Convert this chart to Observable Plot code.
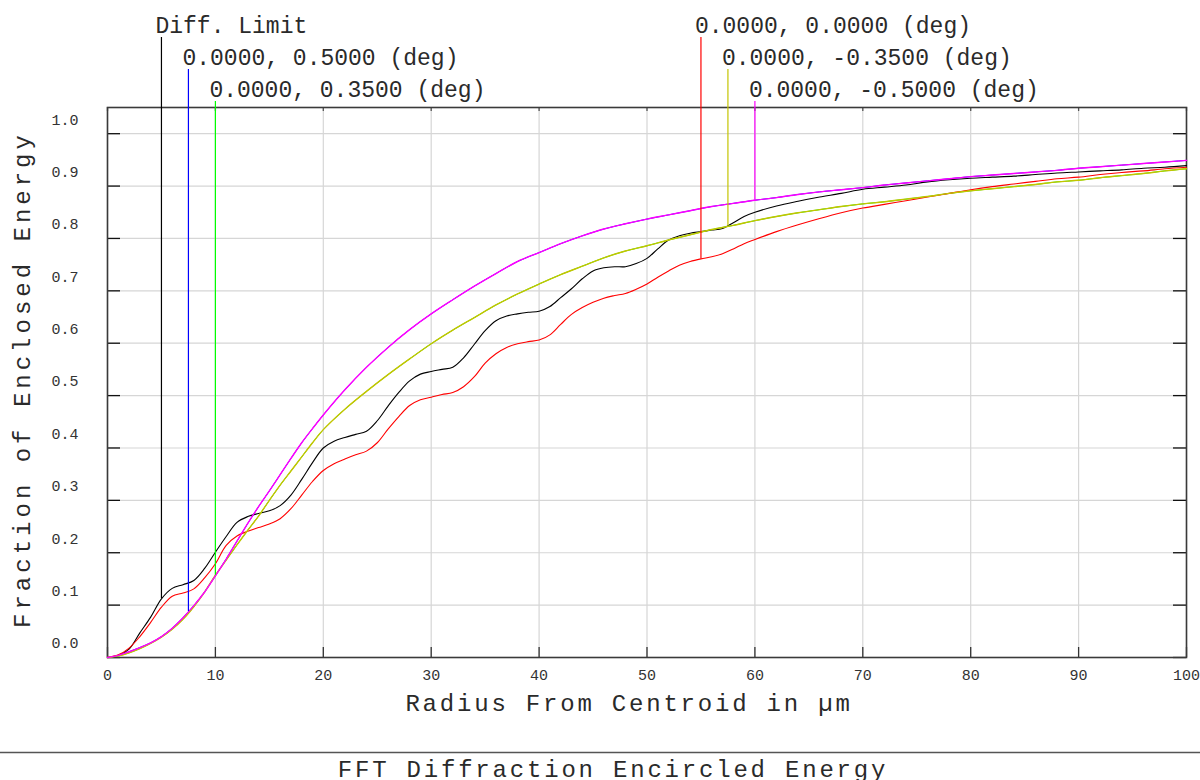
<!DOCTYPE html>
<html><head><meta charset="utf-8">
<script src="https://cdn.jsdelivr.net/npm/d3@7"></script>
<script src="https://cdn.jsdelivr.net/npm/@observablehq/plot@0.6"></script>
<style>
body{margin:0;background:#fff;}
#wrap{position:relative;width:1200px;height:780px;overflow:hidden;font-family:"Liberation Mono",monospace;background:#fff;}
#footer{position:absolute;left:0;top:730px;}
</style></head><body><div id="wrap"></div>
<script>
// ---------- data ----------
const rippleRadius = [0,1,2,3,4,5,6,7,8,9,10,11,12,13,14,15,16,17,18,19,20,21,22,23,24,25,26,27,28,29,30,31,32,33,34,35,36,37,38,39,40,41,42,43,44,45,46,47,48,49,50,51,52,53,54,55,56,57,58,59,60,62,64,66,68,70,72,74,76,78,80,82,84,86,88,90,92,94,96,98,100];
const diffLimit = [0,0.004,0.016,0.047,0.077,0.112,0.132,0.139,0.147,0.17,
 0.201,0.231,0.258,0.269,0.275,0.28,0.29,0.31,0.34,0.372,
 0.40,0.413,0.42,0.426,0.432,0.452,0.48,0.506,0.528,0.541,
 0.546,0.55,0.554,0.572,0.598,0.624,0.643,0.652,0.656,0.659,
 0.661,0.67,0.687,0.704,0.723,0.738,0.744,0.746,0.746,0.752,
 0.762,0.78,0.797,0.805,0.81,0.813,0.816,0.819,0.83,0.842,
 0.85,
 0.862,0.871,0.879,0.886,0.894,0.898,0.902,0.908,0.912,0.915,
 0.917,0.919,0.922,0.925,0.927,0.929,0.931,0.934,0.936,0.939];
const field00 = [0,0.005,0.018,0.04,0.067,0.096,0.117,0.123,0.131,0.152,
 0.179,0.214,0.232,0.241,0.248,0.255,0.265,0.284,0.31,0.336,
 0.357,0.37,0.379,0.387,0.394,0.41,0.436,0.46,0.481,0.492,
 0.497,0.502,0.506,0.517,0.536,0.562,0.58,0.592,0.599,0.603,
 0.606,0.616,0.636,0.655,0.668,0.678,0.686,0.691,0.695,0.703,
 0.713,0.726,0.738,0.749,0.756,0.761,0.765,0.771,0.78,0.79,
 0.798,
 0.813,0.826,0.838,0.849,0.858,0.865,0.872,0.879,0.886,0.893,
 0.899,0.904,0.909,0.914,0.917,0.922,0.926,0.929,0.933,0.936];

const smoothRadius = [0,1,2,3,4,5,6,7,8,9,10,11,12,13,14,15,16,17,18,19,20,22,24,26,28,30,32,34,36,38,40,42,44,46,48,50,52,54,56,58,60,62,64,66,68,70,72,74,76,78,80,82,84,86,88,90,92,94,96,98,100];
const fieldPos05 = [0,0.004,0.011,0.019,0.028,0.04,0.056,0.076,0.099,0.125,
 0.156,0.188,0.222,0.256,0.288,0.318,0.349,0.38,0.41,0.437,
 0.463,
 0.511,0.554,0.592,0.626,0.656,0.683,0.709,0.733,0.756,0.773,
 0.79,0.805,0.818,0.828,0.837,0.845,0.853,0.861,0.867,0.873,
 0.878,0.884,0.889,0.893,0.897,0.902,0.906,0.910,0.914,0.918,
 0.921,0.924,0.927,0.930,0.934,0.937,0.940,0.943,0.946,0.949];
const fieldPos035 = [0,0.003,0.009,0.017,0.027,0.039,0.054,0.073,0.097,0.125,
 0.157,0.186,0.215,0.243,0.27,0.3,0.329,0.356,0.383,0.41,
 0.435,
 0.474,0.508,0.54,0.57,0.599,0.625,0.649,0.673,0.694,0.713,
 0.731,0.747,0.763,0.776,0.786,0.797,0.807,0.817,0.825,0.834,
 0.842,0.849,0.855,0.861,0.866,0.870,0.875,0.880,0.886,0.891,
 0.895,0.899,0.903,0.908,0.911,0.916,0.920,0.924,0.929,0.933];
const fieldNeg035 = [0,0.003,0.009,0.017,0.027,0.039,0.054,0.073,0.097,0.125,
 0.157,0.186,0.215,0.243,0.27,0.3,0.329,0.356,0.383,0.41,
 0.435,
 0.474,0.508,0.54,0.57,0.599,0.625,0.649,0.673,0.694,0.713,
 0.731,0.747,0.763,0.776,0.786,0.797,0.807,0.817,0.825,0.834,
 0.842,0.849,0.855,0.861,0.866,0.870,0.875,0.880,0.886,0.891,
 0.895,0.899,0.903,0.908,0.911,0.916,0.920,0.924,0.929,0.933];
const fieldNeg05 = [0,0.004,0.011,0.019,0.028,0.04,0.056,0.076,0.099,0.125,
 0.156,0.188,0.222,0.256,0.288,0.318,0.349,0.38,0.41,0.437,
 0.463,
 0.511,0.554,0.592,0.626,0.656,0.683,0.709,0.733,0.756,0.773,
 0.79,0.805,0.818,0.828,0.837,0.845,0.853,0.861,0.867,0.873,
 0.878,0.884,0.889,0.893,0.897,0.902,0.906,0.910,0.914,0.918,
 0.921,0.924,0.927,0.930,0.934,0.937,0.940,0.943,0.946,0.949];

const seriesLabels = ["Diff. Limit","0.0000, 0.5000 (deg)","0.0000, 0.3500 (deg)","0.0000, 0.0000 (deg)","0.0000, -0.3500 (deg)","0.0000, -0.5000 (deg)"];
const labelRadius = [5, 7.5, 10, 55, 57.5, 60];
const labelCurveValue = [0.112, 0.088, 0.157, 0.761, 0.824, 0.873];
const xTicks = [0,10,20,30,40,50,60,70,80,90,100];
const yTicks = [0,0.1,0.2,0.3,0.4,0.5,0.6,0.7,0.8,0.9,1.0];
const xTitle = "Radius From Centroid in µm";
const yTitle = "Fraction of Enclosed Energy";
const chartTitle = "FFT Diffraction Encircled Energy";

// ---------- layout / style ----------
const colors = ["#000000","#0000ff","#00ff00","#ff0000","#c4c400","#ff00ff"];
const widths = [1.1, 1, 1, 1.1, 1.4, 1.4];
const W = 1200, H = 730, mL = 107, mR = 14, mT = 107, mB = 73;
const yMax = 1.05;
const frameW = W - mL - mR, frameH = H - mT - mB;
const pxPerUnit = frameH / yMax;
const pxToVal = (px) => yMax + (mT - px) / pxPerUnit;
const font = "Liberation Mono, monospace";

const seriesData = [
  {r: rippleRadius, v: diffLimit},
  {r: smoothRadius, v: fieldPos05},
  {r: smoothRadius, v: fieldPos035},
  {r: rippleRadius, v: field00},
  {r: smoothRadius, v: fieldNeg035},
  {r: smoothRadius, v: fieldNeg05}
];

const leaders = seriesLabels.map((label, i) => ({
  label, r: labelRadius[i], end: labelCurveValue[i], color: colors[i],
  top: pxToVal(37 + 32 * (i % 3)),
  base: pxToVal(32 + 32 * (i % 3))
}));

const lineMarks = seriesData.map((s, i) =>
  Plot.line(s.r.map((r, j) => ({r, v: s.v[j]})), {x: "r", y: "v", stroke: colors[i], strokeWidth: widths[i], curve: "catmull-rom"})
);

const chart = Plot.plot({
  width: W, height: H,
  marginLeft: mL, marginRight: mR, marginTop: mT, marginBottom: mB,
  style: {fontFamily: font, background: "#fff", color: "#333"},
  x: {domain: [0, 100]},
  y: {domain: [0, yMax]},
  marks: [
    Plot.gridX(xTicks, {stroke: "#d6d6d6", strokeOpacity: 1, strokeWidth: 1.2}),
    Plot.gridY(yTicks, {stroke: "#d6d6d6", strokeOpacity: 1, strokeWidth: 1.2}),
    Plot.tickY(yTicks, {y: d => d, stroke: "#111", strokeWidth: 1.3, insetRight: frameW - 13}),
    Plot.tickY(yTicks, {y: d => d, stroke: "#111", strokeWidth: 1.3, insetLeft: frameW - 13}),
    Plot.tickX(xTicks, {x: d => d, stroke: "#333", strokeWidth: 1.3, insetTop: frameH - 10}),
    Plot.tickX(xTicks, {x: d => d, stroke: "#555", strokeWidth: 1.3, insetBottom: frameH - 4}),
    Plot.frame({stroke: "#3a3a3a", strokeWidth: 1.6}),
    Plot.axisX(xTicks, {tickSize: 0, tickPadding: 12, fontSize: 15, label: null, fill: "#333"}),
    Plot.axisY(yTicks, {tickSize: 0, tickPadding: 29, dy: -14, fontSize: 15, label: null, fill: "#333", tickFormat: d3.format(".1f")}),
    ...lineMarks,
    Plot.ruleX(leaders, {x: "r", y1: "top", y2: "end", stroke: "color", strokeWidth: 1.2}),
    Plot.text(leaders, {x: "r", y: "base", text: "label", textAnchor: "start", lineAnchor: "bottom", dx: -6, fontSize: 23, fill: "#2a2a2a"}),
    Plot.text([xTitle], {text: d => d, frameAnchor: "bottom", textAnchor: "middle", lineAnchor: "middle", dy: 46, dx: -18, fontSize: 24, fill: "#2a2a2a"}),
    Plot.text([yTitle], {text: d => d, frameAnchor: "left", textAnchor: "middle", lineAnchor: "middle", dx: -85, dy: -3, rotate: -90, fontSize: 24, fill: "#2a2a2a"})
  ]
});
chart.querySelectorAll("text").forEach(t => {
  if (t.textContent === xTitle) t.style.letterSpacing = "2.8px";
  if (t.textContent === yTitle) t.style.letterSpacing = "4px";
});
const wrap = document.getElementById("wrap");
wrap.appendChild(chart);

const footer = document.createElementNS("http://www.w3.org/2000/svg", "svg");
footer.setAttribute("id", "footer");
footer.setAttribute("width", 1200);
footer.setAttribute("height", 50);
footer.innerHTML = `<line x1="0" x2="1200" y1="22.5" y2="22.5" stroke="#555" stroke-width="1.5"/>
<text x="613" y="47" text-anchor="middle" font-family="${font}" font-size="24" fill="#2a2a2a" style="letter-spacing:2.8px">${chartTitle}</text>`;
wrap.appendChild(footer);
</script></body></html>
